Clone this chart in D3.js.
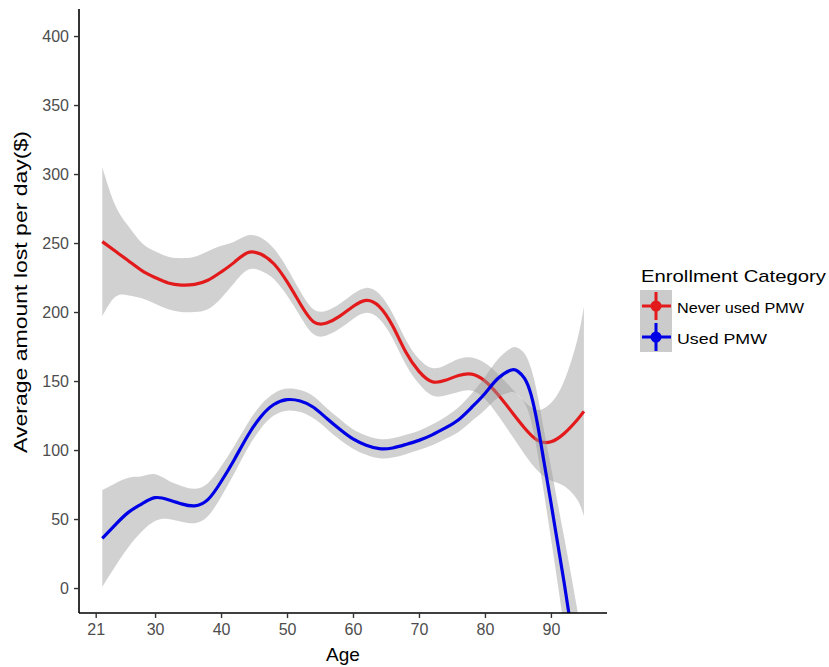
<!DOCTYPE html>
<html><head><meta charset="utf-8">
<script src="https://cdn.jsdelivr.net/npm/d3@7"></script>
<style>body{margin:0;background:#fff}svg{display:block;font-family:"Liberation Sans",Arial,sans-serif}</style>
</head><body><svg id="c" width="829" height="667"></svg>
<script>
// ---- data ----
const categories = ["Never used PMW", "Used PMW"];
const colors = ["#e31a1c", "#0000e6"];
const xTicks = [21, 30, 40, 50, 60, 70, 80, 90];
const yTicks = [0, 50, 100, 150, 200, 250, 300, 350, 400];

const neverAges = [22,24,26,28,30,32,34,36,38,40,42,44,46,48,50,52,54,56,58,60,62,64,66,68,70,72,74,76,78,80,82,84,86,88,90,92,94,95];
const neverFit  = [251,244,237,230,225,221,219.5,220,223,229,236,243,242,235,222,206,193,192,197,204,208.5,204,190,171,157,149.5,150.5,154,155,150,140,128,116,107,106,112,122,128];
const neverHalf = [54,33,25,20,19,19,19.5,20,21,19,15,12.5,12,11,10,9,9,9,9,9,9,9,9,9,9,10,11,12,12,13,15,17,19,22,28,38,58,76];

const usedAges = [22,24,26,28,30,32,34,36,38,40,42,44,46,48,50,52,54,56,58,60,62,64,66,68,70,72,74,76,78,80,82,84,85,86,87,88,89,90,91,92,93,94,95];
const usedFit  = [36,46,55,61,65.5,64,61,59.5,64,77,93,110,124,133,136.5,135.5,131,123,115,108,103.5,101,101.5,104,107,111,116,122,131,141,152,158,157,152,140,118,90,62,33,4,-27,-60,-95];
const usedHalf = [35,30,25,20,17,14,13,12.5,12,11,10,9,8.5,8,8,8,8,7.5,7.5,7,7,7,7,7,7,7.5,8,9,10,12,14,16,17,18,19,21,23,26,29,33,38,44,52];

// ---- layout ----
const svg = d3.select("#c");
const P = {left: 79, right: 607, top: 9, bottom: 613};
const x = d3.scaleLinear().domain([18.47, 98.5]).range([P.left, P.right]);
const y = d3.scaleLinear().domain([-18.1, 419.6]).range([P.bottom, P.top]);

svg.append("defs").append("clipPath").attr("id","panel")
  .append("rect").attr("x",P.left).attr("y",P.top).attr("width",P.right-P.left).attr("height",P.bottom-P.top);

const g = svg.append("g").attr("clip-path","url(#panel)");
const series = [
  {ages: neverAges, fit: neverFit, half: neverHalf, color: colors[0]},
  {ages: usedAges, fit: usedFit, half: usedHalf, color: colors[1]}
];
const curve = d3.curveNatural;
series.forEach(s => {
  const pts = s.ages.map((a,i)=>({a, f: s.fit[i], lo: s.fit[i]-s.half[i], hi: s.fit[i]+s.half[i]}));
  g.append("path").datum(pts)
    .attr("d", d3.area().x(d=>x(d.a)).y0(d=>y(d.lo)).y1(d=>y(d.hi)).curve(curve))
    .attr("fill","#999999").attr("fill-opacity",0.45);
  g.append("path").datum(pts)
    .attr("d", d3.line().x(d=>x(d.a)).y(d=>y(d.f)).curve(curve))
    .attr("fill","none").attr("stroke",s.color).attr("stroke-width",3.2);
});

// ---- axes ----
const xAxis = svg.append("g").attr("transform",`translate(0,${P.bottom})`)
  .call(d3.axisBottom(x).tickValues(xTicks).tickSize(5).tickPadding(6).tickSizeOuter(0));
const yAxis = svg.append("g").attr("transform",`translate(${P.left},0)`)
  .call(d3.axisLeft(y).tickValues(yTicks).tickSize(5).tickPadding(5).tickSizeOuter(0));
[xAxis, yAxis].forEach(a => {
  a.select(".domain").attr("stroke","#000").attr("stroke-width",1.6);
  a.selectAll(".tick line").attr("stroke","#333").attr("stroke-width",1.4);
  a.selectAll(".tick text").attr("fill","#4d4d4d").attr("font-size",16)
    .attr("font-family","Liberation Sans, Arial, sans-serif");
});
xAxis.select(".domain").attr("d",`M${P.left},0H${P.right}`);
yAxis.select(".domain").attr("d",`M0,${P.top}V${P.bottom}`);

svg.append("text").attr("x",(P.left+P.right)/2).attr("y",661).attr("text-anchor","middle")
  .attr("font-size",19).attr("fill","#000").text("Age");
svg.append("text").attr("transform","translate(27,292) rotate(-90)").attr("text-anchor","middle")
  .attr("font-size",19).attr("fill","#000").attr("textLength",322).attr("lengthAdjust","spacingAndGlyphs")
  .text("Average amount lost per day($)");

// ---- legend ----
const L = svg.append("g");
L.append("text").attr("x",641).attr("y",282).attr("font-size",17).attr("fill","#000")
  .attr("textLength",185).attr("lengthAdjust","spacingAndGlyphs").text("Enrollment Category");
const keyLen = [127, 90];
categories.forEach((c,i) => {
  const cy = 306 + i*31;
  L.append("rect").attr("x",640).attr("y",cy-16).attr("width",32).attr("height",31).attr("fill","#cbcbcb");
  L.append("line").attr("x1",642).attr("x2",671).attr("y1",cy).attr("y2",cy).attr("stroke",colors[i]).attr("stroke-width",3);
  L.append("line").attr("x1",656).attr("x2",656).attr("y1",cy-14).attr("y2",cy+14).attr("stroke",colors[i]).attr("stroke-width",3);
  L.append("circle").attr("cx",656).attr("cy",cy).attr("r",5.5).attr("fill",colors[i]);
  L.append("text").attr("x",677).attr("y",cy+6.5).attr("font-size",15).attr("fill","#000")
    .attr("textLength",keyLen[i]).attr("lengthAdjust","spacingAndGlyphs").text(c);
});
</script></body></html>
